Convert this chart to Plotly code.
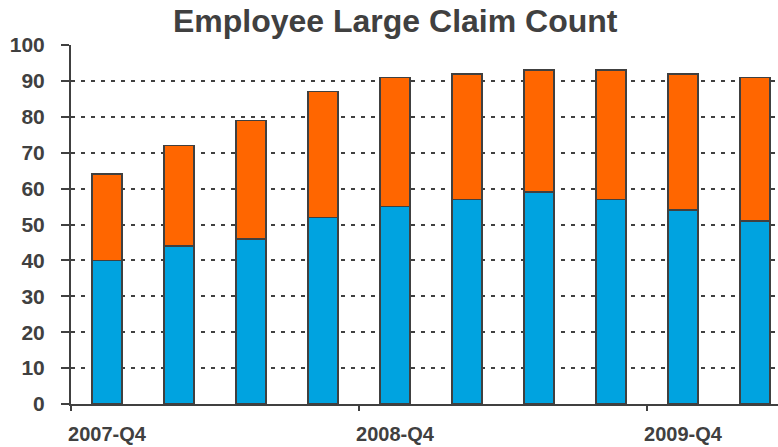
import plotly.graph_objects as go

quarters = ["2007-Q4", "2008-Q1", "2008-Q2", "2008-Q3", "2008-Q4",
            "2009-Q1", "2009-Q2", "2009-Q3", "2009-Q4", "2010-Q1"]
lower_series = [40, 44, 46, 52, 55, 57, 59, 57, 54, 51]
upper_series = [24, 28, 33, 35, 36, 35, 34, 36, 38, 40]
labeled_quarters = ["2007-Q4", "2008-Q4", "2009-Q4"]
y_ticks = list(range(0, 101, 10))

idx = list(range(len(quarters)))
label_idx = [quarters.index(q) for q in labeled_quarters]
boundary_idx = [i - 0.5 for i in label_idx]

edge = dict(color="#404040", width=1.6)
fig = go.Figure()
fig.add_trace(go.Bar(x=idx, y=lower_series, marker=dict(color="#00A3E0", line=edge),
                     width=0.42, name="Lower", hovertext=quarters))
fig.add_trace(go.Bar(x=idx, y=upper_series, marker=dict(color="#FF6600", line=edge),
                     width=0.42, name="Upper", hovertext=quarters))
# invisible trace to realise the overlay axis used for boundary tick marks
fig.add_trace(go.Scatter(x=[idx[0]], y=[0], xaxis="x2", mode="markers",
                         marker=dict(opacity=0), showlegend=False, hoverinfo="skip"))

xr = [-0.5, 9.32]
fig.update_layout(
    width=778, height=447,
    barmode="stack",
    showlegend=False,
    plot_bgcolor="white", paper_bgcolor="white",
    margin=dict(l=71, r=0, t=45, b=43, autoexpand=False),
    title=dict(text="<b>Employee Large Claim Count</b>", x=0.508, xanchor="center",
               y=0.953, yanchor="middle",
               font=dict(family="Arial, Liberation Sans", size=32, color="#404040")),
    xaxis=dict(range=xr, tickmode="array", tickvals=label_idx, ticktext=labeled_quarters,
               ticks="", showgrid=False, zeroline=False, showline=True,
               linecolor="#404040", linewidth=2, ticklabelstandoff=11,
               tickfont=dict(family="Arial, Liberation Sans", size=20,
                             color="#404040", weight="bold")),
    xaxis2=dict(range=xr, overlaying="x", anchor="y", tickmode="array",
                tickvals=boundary_idx, ticks="outside", ticklen=6, tickwidth=2,
                tickcolor="#404040", showticklabels=False, showgrid=False,
                zeroline=False, showline=False),
    yaxis=dict(range=[0, 100], tickmode="array", tickvals=y_ticks,
               ticks="outside", ticklen=8, tickwidth=2, tickcolor="#404040",
               showline=True, linecolor="#404040", linewidth=2, zeroline=False,
               showgrid=True, gridcolor="#404040", gridwidth=2, griddash="4px,6px",
               ticklabelstandoff=12,
               tickfont=dict(family="Arial, Liberation Sans", size=21, color="#404040",
                             weight="bold")),
)
fig.write_html("out.html", config={"displayModeBar": False},
               post_script="document.body.style.margin='0';")
